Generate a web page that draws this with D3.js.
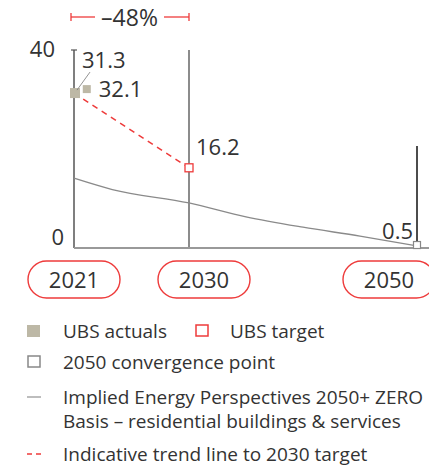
<!DOCTYPE html>
<html><head><meta charset="utf-8">
<script src="https://cdn.jsdelivr.net/npm/d3@7"></script>
<style>body{margin:0;background:#fff}svg{display:block}text{font-family:"Open Sans",sans-serif;fill:#333}</style>
</head><body>
<svg id="c" width="429" height="468"></svg>
<script>
const yearTicks = [2021, 2030, 2050];
const actualYears = [2021, 2022];
const actualValues = [31.3, 32.1];
const targetYear = [2030];
const targetValue = [16.2];
const convergenceYear = [2050];
const convergenceValue = [0.5];
const pathYears = [2021, 2024, 2030, 2035, 2040, 2045, 2050];
const pathValues = [14.1, 11.8, 9.1, 6.3, 4.2, 2.4, 0.4];
const yTicks = [0, 40];
const reductionLabel = "\u201348%";
const legendItems = ["UBS actuals", "UBS target", "2050 convergence point",
  "Implied Energy Perspectives 2050+ ZERO", "Basis \u2013 residential buildings & services",
  "Indicative trend line to 2030 target"];

const svg = d3.select("#c");
const x = d3.scaleLinear().domain([2021, 2030, 2050]).range([74, 189, 417]);
const y = d3.scaleLinear().domain([0, 40]).range([248, 50]);
const red = "#ee3b3b";
const FS = 22;

// verticals
svg.append("line").attr("x1", x(2021)).attr("x2", x(2021)).attr("y1", y(40)).attr("y2", y(0)).attr("stroke", "#555").attr("stroke-width", 1.5);
svg.append("line").attr("x1", x(2021) - 3).attr("x2", x(2021) + 3).attr("y1", y(40)).attr("y2", y(40)).attr("stroke", "#555").attr("stroke-width", 1.2);
svg.append("line").attr("x1", x(2030)).attr("x2", x(2030)).attr("y1", y(40)).attr("y2", y(0)).attr("stroke", "#666").attr("stroke-width", 1.5);
svg.append("line").attr("x1", x(2050)).attr("x2", x(2050)).attr("y1", y(20.6)).attr("y2", y(0)).attr("stroke", "#111").attr("stroke-width", 1.5);
// baseline
svg.append("line").attr("x1", x(2021)).attr("x2", 429).attr("y1", y(0)).attr("y2", y(0)).attr("stroke", "#999").attr("stroke-width", 2);

// y labels
yTicks.forEach(t => {
  svg.append("text").attr("x", t === 0 ? 64 : 55).attr("y", y(t) + (t === 0 ? -3 : 7)).attr("text-anchor", "end")
    .attr("font-size", FS).text(t);
});

// implied path
svg.append("path").datum(pathYears.map((d, i) => [d, pathValues[i]]))
  .attr("d", d3.line().x(d => x(d[0])).y(d => y(d[1])).curve(d3.curveMonotoneX))
  .attr("fill", "none").attr("stroke", "#8a8a8a").attr("stroke-width", 1.3);

// trend line
svg.append("line").attr("x1", x(actualYears[0])).attr("y1", y(actualValues[0]))
  .attr("x2", x(targetYear[0])).attr("y2", y(targetValue[0]))
  .attr("stroke", red).attr("stroke-width", 1.5).attr("stroke-dasharray", "6,5");

// actuals
const aSizes = [10, 8];
actualYears.forEach((yr, i) => {
  const s = aSizes[i];
  svg.append("rect").attr("x", x(yr) - s / 2 + (i === 0 ? 1 : 0)).attr("y", y(actualValues[i]) - s / 2).attr("width", s).attr("height", s).attr("fill", "#bdb8a6");
});
// leader
svg.append("line").attr("x1", x(2021) + 3).attr("y1", y(actualValues[0]) - 3).attr("x2", x(2021) + 16).attr("y2", y(actualValues[0]) - 21).attr("stroke", "#777").attr("stroke-width", 0.8);
svg.append("text").attr("x", x(2021) + 8).attr("y", y(actualValues[0]) - 25).attr("font-size", FS).text(actualValues[0]);
svg.append("text").attr("x", x(2022) + 12).attr("y", y(actualValues[1]) + 8).attr("font-size", FS).text(actualValues[1]);

// target
svg.append("rect").attr("x", x(2030) - 4).attr("y", y(targetValue[0]) - 4).attr("width", 8).attr("height", 8).attr("fill", "#fff").attr("stroke", red).attr("stroke-width", 1.3);
svg.append("text").attr("x", x(2030) + 7).attr("y", y(targetValue[0]) - 13).attr("font-size", FS).text(targetValue[0]);

// convergence
svg.append("rect").attr("x", x(2050) - 3.5).attr("y", y(convergenceValue[0]) - 4).attr("width", 7).attr("height", 7).attr("fill", "#fff").attr("stroke", "#888").attr("stroke-width", 1.2);
svg.append("text").attr("x", x(2050) - 4).attr("y", y(convergenceValue[0]) - 7).attr("text-anchor", "end").attr("font-size", FS).text(convergenceValue[0]);

// -48% bracket
const by = 17;
svg.append("line").attr("x1", x(2021) - 3).attr("x2", 95).attr("y1", by).attr("y2", by).attr("stroke", red).attr("stroke-width", 1.3);
svg.append("line").attr("x1", 164).attr("x2", x(2030)).attr("y1", by).attr("y2", by).attr("stroke", red).attr("stroke-width", 1.3);
[x(2021) - 3, x(2030)].forEach(px => svg.append("line").attr("x1", px).attr("x2", px).attr("y1", by - 4).attr("y2", by + 4).attr("stroke", red).attr("stroke-width", 1.3));
svg.append("text").attr("x", 129.5).attr("y", by + 9).attr("text-anchor", "middle").attr("font-size", 23).text(reductionLabel);

// year pills
const pillShift = [0, 15, -28];
yearTicks.forEach((yr, i) => {
  const cx = x(yr) + pillShift[i];
  svg.append("rect").attr("x", cx - 46).attr("y", 261).attr("width", 92).attr("height", 37).attr("rx", 18.5)
    .attr("fill", "#fff").attr("stroke", red).attr("stroke-width", 1.4);
  svg.append("text").attr("x", cx).attr("y", 288).attr("text-anchor", "middle").attr("font-size", FS).text(yr);
});

// legend
const LF = 19;
svg.append("rect").attr("x", 27).attr("y", 325).attr("width", 13).attr("height", 12).attr("fill", "#bdb8a6");
svg.append("text").attr("x", 63).attr("y", 338).attr("font-size", LF).text(legendItems[0]);
svg.append("rect").attr("x", 196).attr("y", 325).attr("width", 12).attr("height", 11).attr("fill", "#fff").attr("stroke", red).attr("stroke-width", 1.5);
svg.append("text").attr("x", 230).attr("y", 338).attr("font-size", LF).text(legendItems[1]);
svg.append("rect").attr("x", 28).attr("y", 356).attr("width", 12).attr("height", 11).attr("fill", "#fff").attr("stroke", "#888").attr("stroke-width", 1.5);
svg.append("text").attr("x", 63).attr("y", 369).attr("font-size", LF).text(legendItems[2]);
svg.append("line").attr("x1", 27).attr("x2", 41).attr("y1", 397).attr("y2", 397).attr("stroke", "#999").attr("stroke-width", 1.3);
svg.append("text").attr("x", 63).attr("y", 404).attr("font-size", LF).text(legendItems[3]);
svg.append("text").attr("x", 63).attr("y", 428).attr("font-size", LF).text(legendItems[4]);
svg.append("line").attr("x1", 27).attr("x2", 41).attr("y1", 454).attr("y2", 454).attr("stroke", red).attr("stroke-width", 1.3).attr("stroke-dasharray", "5,4");
svg.append("text").attr("x", 63).attr("y", 461).attr("font-size", LF).text(legendItems[5]);
</script>
</body></html>
